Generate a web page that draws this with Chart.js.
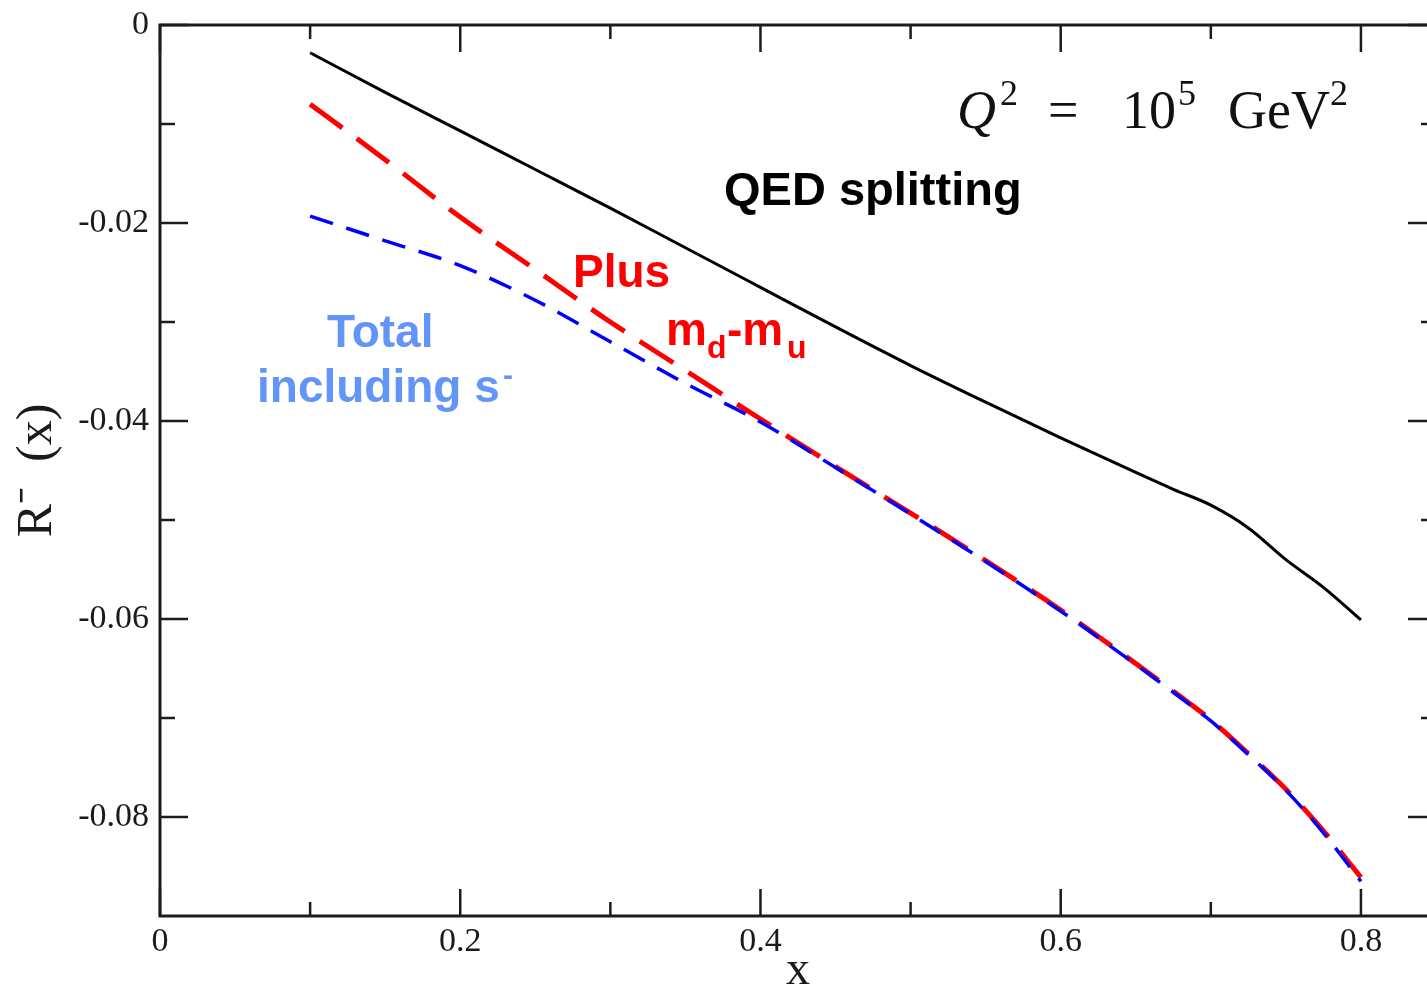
<!DOCTYPE html>
<html>
<head>
<meta charset="utf-8">
<title>R- (x) at Q2 = 1e5 GeV2</title>
<script src="https://cdn.jsdelivr.net/npm/chart.js@4.4.1/dist/chart.umd.min.js"></script>
<style>
  html, body { margin: 0; padding: 0; background: #fff; overflow: hidden; }
  #wrap { width: 1440px; height: 993px; }
</style>
</head>
<body>
<div id="wrap"><canvas id="chart" width="1440" height="993"></canvas></div>
<script>
// ── x grid of the curves ──
const xs = [0.1, 0.15, 0.2, 0.25, 0.3, 0.35, 0.4, 0.45, 0.5, 0.55, 0.6, 0.65, 0.675, 0.7, 0.725, 0.75, 0.775, 0.8];

// ── R^-(x) contributions ──
const qedSplitting = [-0.0028, -0.0068, -0.0107, -0.0146, -0.0185, -0.0225, -0.0265, -0.0305, -0.0344, -0.0381,
                      -0.0417, -0.0452, -0.0469, -0.0485, -0.0508, -0.0540, -0.0568, -0.0601];
const plusMassDiff = [-0.0080, -0.0136, -0.0194, -0.0247, -0.0300, -0.0349, -0.0398, -0.0446, -0.0493, -0.0541,
                      -0.0591, -0.0645, -0.0673, -0.0702, -0.0736, -0.0772, -0.0814, -0.0861];
const totalWithS   = [-0.0193, -0.0218, -0.0243, -0.0278, -0.0320, -0.0362, -0.0401, -0.0447, -0.0494, -0.0542,
                      -0.0592, -0.0646, -0.0674, -0.0703, -0.0737, -0.0773, -0.0816, -0.0865];

// ── axis ticks ──
const xMajorTicks = [0, 0.2, 0.4, 0.6, 0.8];
const xMinorTicks = [0.1, 0.3, 0.5, 0.7];
const yMajorTicks = [0, -0.02, -0.04, -0.06, -0.08];
const yMinorTicks = [-0.01, -0.03, -0.05, -0.07];

const pts = ys => xs.map((x, i) => ({ x, y: ys[i] }));

// ── Frame box with inward ticks on all four sides ──
const frameTicks = {
  id: 'frameTicks',
  afterDatasetsDraw(chart) {
    const { ctx, chartArea: a, scales: { x, y } } = chart;
    ctx.save();
    ctx.strokeStyle = '#1c1c1c';
    ctx.lineWidth = 2.5;
    ctx.beginPath();
    const vTick = (v, len) => {
      const px = x.getPixelForValue(v);
      ctx.moveTo(px, a.bottom); ctx.lineTo(px, a.bottom - len);
      ctx.moveTo(px, a.top);    ctx.lineTo(px, a.top + len);
    };
    const hTick = (v, len) => {
      const py = y.getPixelForValue(v);
      ctx.moveTo(a.left, py);  ctx.lineTo(a.left + len, py);
      ctx.moveTo(a.right, py); ctx.lineTo(a.right - len, py);
    };
    xMajorTicks.forEach(v => vTick(v, 27));
    xMinorTicks.forEach(v => vTick(v, 14));
    yMajorTicks.forEach(v => hTick(v, 28));
    yMinorTicks.forEach(v => hTick(v, 15));
    ctx.stroke();
    ctx.lineWidth = 3;
    ctx.strokeRect(a.left, a.top, a.right - a.left, a.bottom - a.top);
    ctx.restore();
  }
};

// ── Curve labels and the Q^2 note ──
const curveLabels = {
  id: 'curveLabels',
  afterDraw(chart) {
    const { ctx, chartArea: a } = chart;
    const L = a.left, T = a.top;
    const put = (txt, dx, dy, font, color) => {
      ctx.font = font;
      ctx.fillStyle = color;
      ctx.fillText(txt, L + dx, T + dy);
    };
    ctx.save();
    ctx.textAlign = 'left';
    ctx.textBaseline = 'alphabetic';

    // Q^2 = 10^5 GeV^2
    const serif = '"Liberation Serif", "DejaVu Serif", serif';
    put('Q', 797, 103, 'italic 54px ' + serif, '#111');
    put('2', 840, 80, '36px ' + serif, '#111');
    put('=', 888, 103, '54px ' + serif, '#111');
    put('10', 962, 103, '54px ' + serif, '#111');
    put('5', 1018, 80, '36px ' + serif, '#111');
    put('GeV', 1068, 103, '54px ' + serif, '#111');
    put('2', 1170, 80, '36px ' + serif, '#111');

    const sans = '"Liberation Sans", Arial, sans-serif';
    put('QED splitting', 564, 180, 'bold 47px ' + sans, '#000');

    put('Plus', 413, 262, 'bold 46px ' + sans, '#ff0000');
    put('m', 506, 320, 'bold 46px ' + sans, '#ff0000');
    put('d', 547, 333, 'bold 32px ' + sans, '#ff0000');
    put('-m', 567, 320, 'bold 46px ' + sans, '#ff0000');
    put('u', 627, 333, 'bold 32px ' + sans, '#ff0000');

    put('Total', 167, 322, 'bold 46px ' + sans, '#6394f8');
    put('including s', 97, 377, 'bold 46px ' + sans, '#6394f8');
    put('-', 343, 360, 'bold 30px ' + sans, '#6394f8');
    ctx.restore();
  }
};

new Chart(document.getElementById('chart'), {
  type: 'line',
  data: {
    datasets: [
      {
        label: 'Total including s-',
        data: pts(totalWithS),
        borderColor: '#0000ff',
        borderWidth: 3.5,
        borderDash: [24, 14],
        order: 0
      },
      {
        label: 'Plus md-mu',
        data: pts(plusMassDiff),
        borderColor: '#ff0000',
        borderWidth: 5,
        borderDash: [40, 18],
        order: 1
      },
      {
        label: 'QED splitting',
        data: pts(qedSplitting),
        borderColor: '#000000',
        borderWidth: 3,
        order: 2
      }
    ]
  },
  options: {
    responsive: false,
    animation: false,
    events: [],
    layout: { padding: { top: 25, right: 4, left: 0, bottom: 0 } },
    elements: {
      point: { radius: 0 },
      line: { tension: 0.4, cubicInterpolationMode: 'monotone', fill: false, borderCapStyle: 'butt' }
    },
    plugins: {
      legend: { display: false },
      tooltip: { enabled: false }
    },
    scales: {
      x: {
        type: 'linear',
        min: 0,
        max: 0.85,
        afterBuildTicks: s => { s.ticks = xMajorTicks.map(value => ({ value })); },
        afterFit: s => { s.height = 77; s.paddingLeft = 0; s.paddingRight = 0; },
        grid: { display: false, drawTicks: false },
        border: { display: false },
        ticks: {
          padding: 6,
          color: '#1a1a1a',
          font: { family: '"Liberation Serif", serif', size: 34 },
          callback: v => v === 0 ? '0' : String(+v.toFixed(2))
        },
        title: {
          display: true,
          text: 'x',
          color: '#1a1a1a',
          font: { family: '"Liberation Serif", serif', size: 48, lineHeight: 0.9 },
          padding: { top: 0, bottom: 0 }
        }
      },
      y: {
        type: 'linear',
        min: -0.09,
        max: 0,
        afterBuildTicks: s => { s.ticks = yMajorTicks.map(value => ({ value })); },
        afterFit: s => { s.width = 160; s.paddingTop = 0; s.paddingBottom = 0; },
        grid: { display: false, drawTicks: false },
        border: { display: false },
        ticks: {
          padding: 11,
          color: '#1a1a1a',
          font: { family: '"Liberation Serif", serif', size: 34 },
          callback: v => v === 0 ? '0' : String(+v.toFixed(2))
        },
        title: {
          display: true,
          text: 'R\u207B  (x)',
          color: '#1a1a1a',
          font: { family: '"Liberation Serif", serif', size: 50 },
          padding: { top: 8, bottom: 0 }
        }
      }
    }
  },
  plugins: [frameTicks, curveLabels]
});
</script>
</body>
</html>
